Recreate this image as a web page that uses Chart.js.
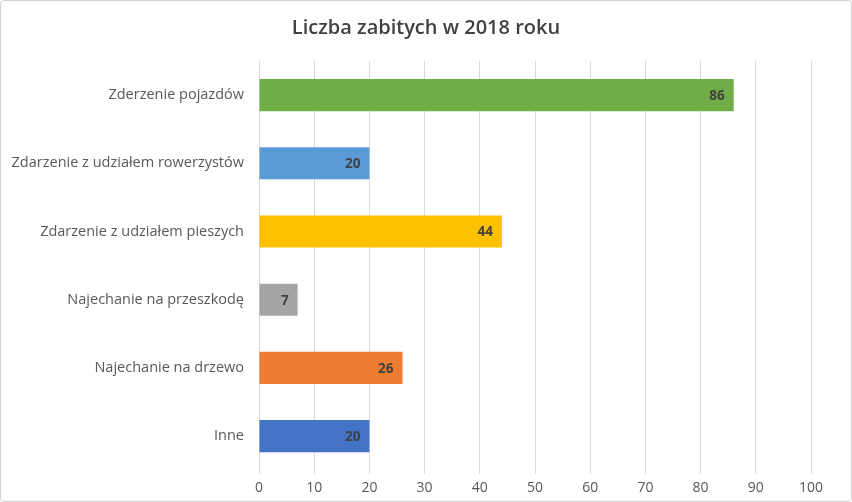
<!DOCTYPE html>
<html>
<head>
<meta charset="utf-8">
<script src="https://cdn.jsdelivr.net/npm/chart.js@4/dist/chart.umd.min.js"></script>
<style>
  html, body { margin: 0; padding: 0; background: #fff; }
  #wrap { position: absolute; left: 0; top: 0; width: 850px; height: 500px; border: 1px solid #d0d0d0; border-radius: 4px; }
  canvas { display: block; }
</style>
</head>
<body>
<div id="wrap"><canvas id="chart" width="850" height="500"></canvas></div>
<script>
const categories = [
    'Zderzenie pojazdów',
    'Zdarzenie z udziałem rowerzystów',
    'Zdarzenie z udziałem pieszych',
    'Najechanie na przeszkodę',
    'Najechanie na drzewo',
    'Inne'
];
const killed = [86, 20, 44, 7, 26, 20];
const barColors = ['#70ad47', '#5b9bd5', '#ffc000', '#a5a5a5', '#ed7d31', '#4472c4'];

// etykiety wartości przy końcu słupka
const valueLabels = {
    id: 'valueLabels',
    afterDatasetsDraw(chart) {
        const ctx = chart.ctx;
        const meta = chart.getDatasetMeta(0);
        ctx.save();
        ctx.font = 'bold 13.5px "Open Sans", sans-serif';
        ctx.fillStyle = '#404040';
        ctx.textAlign = 'right';
        ctx.textBaseline = 'middle';
        meta.data.forEach((bar, i) => {
            ctx.fillText(String(killed[i]), bar.x - 9, bar.y + 1);
        });
        ctx.restore();
    }
};

const ctx = document.getElementById('chart').getContext('2d');
new Chart(ctx, {
    type: 'bar',
    data: {
        labels: categories,
        datasets: [{
            data: killed,
            backgroundColor: barColors,
            barPercentage: 0.47,
            categoryPercentage: 1.0
        }]
    },
    options: {
        indexAxis: 'y',
        responsive: false,
        animation: false,
        layout: { padding: { top: 0, right: 5, bottom: 0, left: 5 } },
        plugins: {
            legend: { display: false },
            tooltip: { enabled: false },
            title: {
                display: true,
                text: 'Liczba zabitych w 2018 roku',
                color: '#404040',
                font: { family: '"Open Sans", sans-serif', size: 20, weight: '600' },
                padding: { top: 15, bottom: 21 }
            }
        },
        scales: {
            x: {
                min: 0,
                max: 100,
                ticks: { stepSize: 10, color: '#595959', font: { family: '"Open Sans", sans-serif', size: 14 }, padding: 5 },
                grid: { color: '#d9d9d9', drawTicks: true, tickLength: 4 },
                border: { display: false },
                afterFit(scale) { scale.paddingRight = 40; }
            },
            y: {
                ticks: { color: '#595959', font: { family: '"Open Sans", sans-serif', size: 14.5 }, padding: 7 },
                grid: { display: false },
                border: { display: false },
                afterFit(scale) { scale.width = 253; }
            }
        }
    },
    plugins: [valueLabels]
});
</script>
</body>
</html>
